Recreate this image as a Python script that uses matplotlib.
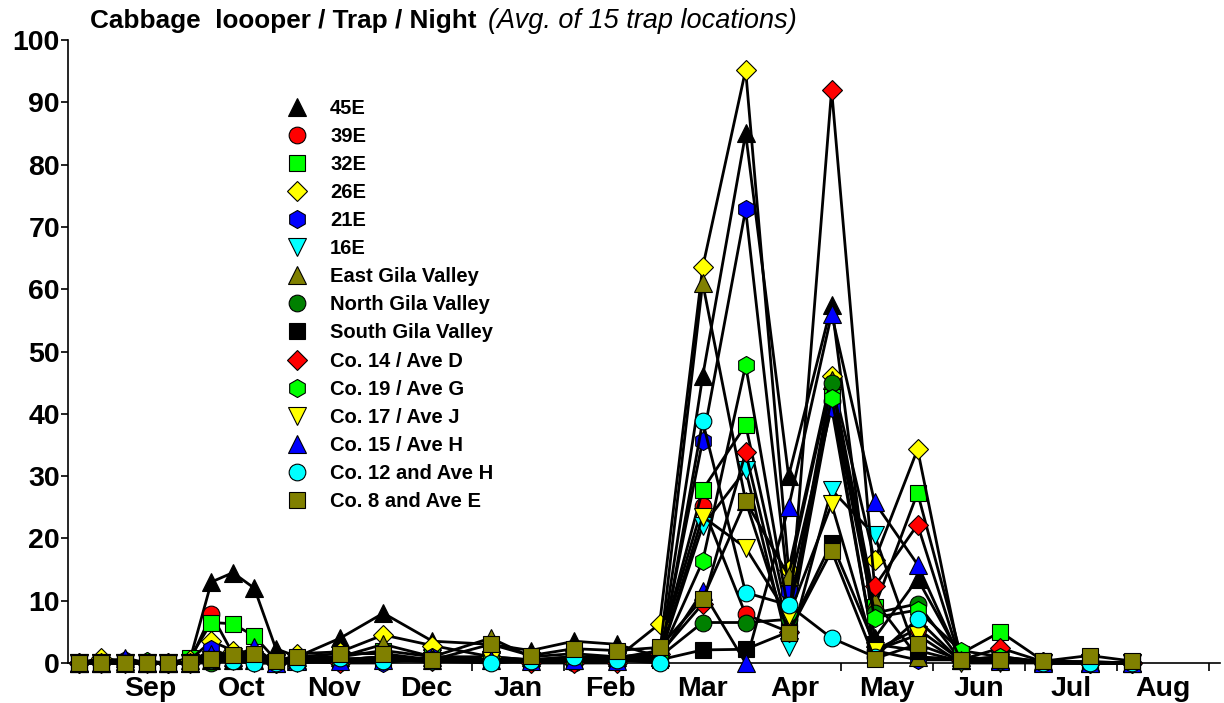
import matplotlib
matplotlib.use('Agg')
import matplotlib.pyplot as plt
from matplotlib.lines import Line2D

plt.rcParams['font.family'] = ['Liberation Sans', 'DejaVu Sans']

# sampling days (0 = first month tick, ticks every 30 days)
days = [-8, -1, 7, 14, 21, 28, 35, 42, 49, 56, 63, 77, 91, 107, 126, 139,
        153, 167, 181, 195, 209, 223, 237, 251, 265, 279, 292, 306, 321, 335]

months = ['Sep', 'Oct', 'Nov', 'Dec', 'Jan', 'Feb', 'Mar', 'Apr', 'May',
          'Jun', 'Jul', 'Aug']

e45 = [0, 0, 0.3, 0, 0, 0.5, 13, 14.5, 12, 2.3, 1, 4, 8, 3.5, 3, 2, 3.5, 3,
       1, 46, 85, 30, 57.5, 4, 13.5, 1, 0.5, 0.3, 0.2, 0]
e39 = [0, 0, 0, 0, 0, 0.3, 7.8, 1.5, 0.8, 0, 0.5, 0.5, 1, 0.5, 0.5, 0.3, 0,
       0.2, 2, 25.2, 7.8, 5, 42, 2, 5.5, 0.5, 1, 0.2, 0, 0]
e32 = [0, 0, 0, 0, 0, 0.8, 6.5, 6.3, 4.3, 0.5, 0.8, 1, 2, 1, 1, 0.5, 1, 0.8,
       2, 27.8, 38.2, 7, 43, 9, 27.3, 1.5, 5, 0.3, 0.2, 0]
e26 = [0, 0.8, 0.3, 0.2, 0, 0.5, 3.5, 2, 1.5, 0, 1.5, 1.8, 4.5, 2.8, 1, 0.5,
       1, 0.8, 6.3, 63.5, 95.2, 15, 46, 16.5, 34.3, 0.5, 0.5, 0.2, 0, 0]
e21 = [0, 0, 0.5, 0, 0, 0, 2.2, 1, 1.5, 0, 0.3, 0, 0, 1, 0.5, 0.2, 0.5, 0.5,
       1, 35.7, 72.8, 11.6, 41, 2, 0.5, 0.5, 0.3, 0, 0, 0]
e16 = [0, 0, 0, 0, 0, 0, 0.5, 0.3, 0, 0, 0, 0.3, 0.5, 0.3, 0.5, 0.3, 0.8, 0.5,
       1, 22, 31, 2.5, 27.8, 20.5, 1, 0.5, 0.3, 0, 0, 0]
east_gila = [0, 0, 0, 0, 0, 0, 0.5, 0.5, 0.5, 0, 0.5, 1, 3, 1, 4, 1, 1.5, 1,
             1.5, 61, 26, 14, 45.5, 10, 1, 0.5, 0.5, 0.2, 0, 0]
north_gila = [0, 0, 0, 0, 0, 0, 0, 0.5, 0.3, 0, 0.3, 0.5, 1, 0.5, 0.5, 0.3,
              0.5, 0.5, 1, 6.5, 6.5, 7, 45, 8, 9.5, 0.5, 1, 0, 0, 0]
south_gila = [0, 0, 0, 0, 0, 0, 0.3, 0.3, 0.3, 0, 0.3, 0.5, 0.5, 0.3, 0.3,
              0.3, 0.3, 0.3, 0.5, 2.1, 2.2, 5, 19.3, 3, 2, 0.3, 0.3, 0, 0, 0]
co14 = [0, 0, 0, 0, 0, 0, 0.8, 1, 0.5, 0, 0.3, 0, 0.5, 0.3, 0.5, 0, 0, 0,
        1.5, 9.5, 33.8, 5, 92, 12.3, 22.2, 0.5, 2.4, 0.2, 0, 0]
co19 = [0, 0, 0, 0.3, 0, 0, 0.5, 0.5, 0.5, 0, 0.3, 0.5, 1, 0.5, 0.5, 0.3, 0.5,
        0.5, 1, 16.3, 47.8, 8, 42.5, 7.3, 8.5, 2, 1, 0.2, 0, 0]
co17 = [0, 0, 0, 0, 0, 0, 0.5, 1, 0.5, 0, 0.3, 0.5, 0.5, 0.3, 0.5, 0.3, 0.5,
        0.3, 1, 23.5, 18.5, 7.5, 25.5, 2, 4.5, 0, 0, 0, 0, 0]
co15 = [0, 0, 0.8, 0, 0, 0, 1.5, 1, 2.5, 0, 0.3, 0.3, 0.5, 0.5, 0.5, 0.3, 0.5,
        0.3, 1, 11.5, 0, 25, 56, 25.8, 15.8, 0.5, 0.3, 0, 0, 0]
co12 = [0, 0, 0, 0, 0, 0, 0.5, 0.3, 0, 0, 0, 0.8, 0.3, 0.3, 0, 0.3, 1, 0.5,
        0, 38.8, 11.3, 9.3, 4, 1, 7, 0.3, 0.3, 0, 0, 0]
co8 = [0, 0, 0, 0, 0, 0, 0.7, 1.3, 1.5, 0.3, 1, 1.5, 1.5, 0.5, 3, 1.2, 2.3, 2,
       2.5, 10.3, 26, 4.8, 18, 0.7, 3, 0.5, 0.5, 0.3, 1.2, 0.3]

series = [
    ('45E', e45, '^', 'black', 13),
    ('39E', e39, 'o', 'red', 12),
    ('32E', e32, 's', '#00FF00', 11),
    ('26E', e26, 'D', 'yellow', 10),
    ('21E', e21, 'h', 'blue', 13),
    ('16E', e16, 'v', 'cyan', 13),
    ('East Gila Valley', east_gila, '^', '#808000', 13),
    ('North Gila Valley', north_gila, 'o', 'green', 12),
    ('South Gila Valley', south_gila, 's', 'black', 11),
    ('Co. 14 / Ave D', co14, 'D', 'red', 10),
    ('Co. 19 / Ave G', co19, 'h', '#00FF00', 13),
    ('Co. 17 / Ave J', co17, 'v', 'yellow', 13),
    ('Co. 15 / Ave H', co15, '^', 'blue', 13),
    ('Co. 12 and Ave H', co12, 'o', 'cyan', 12),
    ('Co. 8 and Ave E', co8, 's', '#808000', 11),
]

fig = plt.figure(figsize=(12.24, 7.03), dpi=100)
ax = fig.add_axes([68 / 1224, 40 / 703, 1152 / 1224, 623 / 703])

handles = []
for i, (name, vals, mk, col, ms) in enumerate(series):
    ax.plot(days, vals, color='black', lw=2, marker=mk, ms=ms,
            markerfacecolor=col, markeredgecolor='black', mew=0.8,
            zorder=3 + i, clip_on=False)
    handles.append(Line2D([], [], ls='none', marker=mk, ms=ms,
                          markerfacecolor=col, markeredgecolor='black',
                          mew=0.8, label=name))

ax.set_xlim(-11.7, 363.5)
ax.set_ylim(0, 100)
ax.set_yticks(range(0, 101, 10))
ax.set_xticks(range(0, 361, 30))
ax.set_xticklabels([])
ax.set_xticks([15 + 30 * k for k in range(12)], minor=True)
ax.set_xticklabels(months, minor=True)
ax.tick_params(axis='x', which='minor', length=0, pad=9)
ax.tick_params(axis='x', which='major', length=5.5, width=1.2, direction='out')
ax.tick_params(axis='y', length=5, width=1.2, direction='out', pad=0.8)
for lab in ax.get_xticklabels(minor=True) + ax.get_yticklabels():
    lab.set_fontsize(20.5)
    lab.set_fontweight('bold')

for s in ['top', 'right']:
    ax.spines[s].set_visible(False)
for s in ['left', 'bottom']:
    ax.spines[s].set_linewidth(1.2)

leg = ax.legend(handles=handles, loc='upper left',
                bbox_to_anchor=(287 / 1224, 1 - 99 / 703),
                bbox_transform=fig.transFigure, frameon=False,
                prop={'weight': 'bold', 'size': 14.5}, labelspacing=0.45,
                handletextpad=1.14, handlelength=1.0, borderpad=0,
                borderaxespad=0)
leg.set_zorder(30)

fig.text(90 / 1224, 1 - 21 / 703, 'Cabbage  loooper / Trap / Night',
         fontsize=18.8, fontweight='bold', va='center', ha='left')
fig.text(488 / 1224, 1 - 21 / 703, '(Avg. of 15 trap locations)',
         fontsize=19.5, fontstyle='italic', va='center', ha='left')

fig.savefig('out.png', dpi=100)
